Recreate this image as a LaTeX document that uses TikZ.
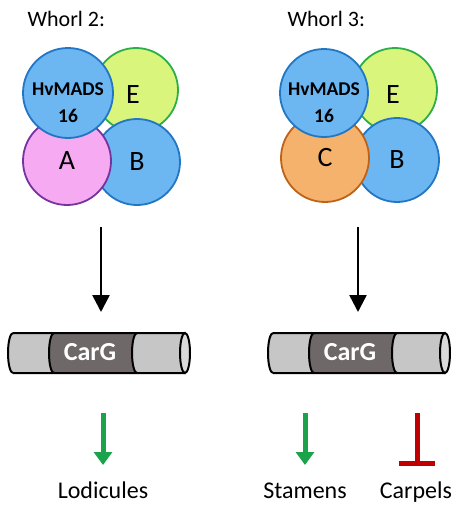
\documentclass[tikz,border=0pt]{standalone}
\usepackage{fontspec}
\setmainfont{Carlito}
\usetikzlibrary{arrows.meta}

\definecolor{mblue}{HTML}{6CB6F2}
\definecolor{mblueline}{HTML}{2277C4}
\definecolor{egreen}{HTML}{D9F57C}
\definecolor{egreenline}{HTML}{2CAF48}
\definecolor{apink}{HTML}{F6AAF2}
\definecolor{apinkline}{HTML}{7533A0}
\definecolor{corange}{HTML}{F5B26C}
\definecolor{corangeline}{HTML}{BE6218}
\definecolor{cyllight}{HTML}{C6C6C6}
\definecolor{cylend}{HTML}{DADADA}
\definecolor{cyldark}{HTML}{6E6868}
\definecolor{upgreen}{HTML}{1BA34B}
\definecolor{downred}{HTML}{C00000}

% CarG cylinder, #1 = node name, #2 = x of the left end
\newcommand{\cargcyl}[2]{%
  \fill[cyllight] (#2,-333) -- (#2+172,-333) arc[start angle=90,end angle=-90,x radius=5,y radius=20]
    -- (#2,-373) arc[start angle=270,end angle=90,x radius=5,y radius=20] -- cycle;
  \fill[cyldark] (#2+41,-333) -- (#2+124,-333) arc[start angle=90,end angle=270,x radius=5,y radius=20]
    -- (#2+41,-373) arc[start angle=270,end angle=90,x radius=5,y radius=20] -- cycle;
  \draw[cylline] (#2+41,-333) arc[start angle=90,end angle=270,x radius=5,y radius=20];
  \draw[cylline] (#2+124,-333) arc[start angle=90,end angle=270,x radius=5,y radius=20];
  \draw[cylline] (#2,-333) -- (#2+172,-333) (#2,-373) -- (#2+172,-373)
    (#2,-333) arc[start angle=90,end angle=270,x radius=5,y radius=20];
  \draw[cylline,fill=cylend] (#2+172,-353) ellipse[x radius=5,y radius=20];
  \node[font=\fontsize{26}{30}\selectfont\bfseries,text=white] (#1) at (#2+77,-352) {CarG};
}

\begin{document}
\begin{tikzpicture}[x=1pt,y=1pt,
  factor/.style={circle,line width=1.8pt,inner sep=0pt,font=\fontsize{28}{32}\selectfont},
  hvmads/.style={factor,fill=mblue,draw=mblueline,minimum size=90pt},
  cylline/.style={line width=2pt,black},
  whorl/.style={font=\fontsize{22}{26}\selectfont,anchor=base west},
  organ/.style={font=\fontsize{24}{28}\selectfont,anchor=base},
  bind/.style={line width=2.5pt,-{Triangle[length=17pt,width=17pt]}},
  promote/.style={upgreen,line width=5pt,-{Triangle[length=13pt,width=18pt]}},
  repress/.style={downred,line width=5pt,-{Bar[width=36pt,line width=5pt]}}]
\useasboundingbox (0,0) rectangle (457,-506);

\node[whorl] (w2) at (24,-26) {Whorl 2:};
\node[whorl] (w3) at (284,-26) {Whorl 3:};

\node[factor,fill=egreen,draw=egreenline,minimum size=84pt] (e2) at (136,-90) {};
\node[factor,fill=mblue,draw=mblueline,minimum size=86pt] (b2) at (137,-162) {B};
\node[factor,fill=apink,draw=apinkline,minimum size=88pt] (a2) at (67,-161) {A};
\node[hvmads,label={[font=\fontsize{19.5}{27}\selectfont\bfseries,align=center,yshift=-10pt]center:HvMADS\\16}] (hv2) at (68,-93) {};
\node[font=\fontsize{28}{32}\selectfont] at (133,-95) {E};

\node[factor,fill=egreen,draw=egreenline,minimum size=84pt] (e3) at (395,-90) {};
\node[factor,fill=mblue,draw=mblueline,minimum size=84pt] (b3) at (397,-160) {B};
\node[factor,fill=corange,draw=corangeline,minimum size=88pt] (c3) at (325,-158) {C};
\node[hvmads,minimum size=88pt,label={[font=\fontsize{19.5}{27}\selectfont\bfseries,align=center,yshift=-10pt]center:HvMADS\\16}] (hv3) at (324,-93) {};
\node[font=\fontsize{28}{32}\selectfont] at (393,-95) {E};

\cargcyl{carg2}{13}
\cargcyl{carg3}{273}

\node[organ] (lod) at (103,-498) {Lodicules};
\node[organ] (sta) at (305,-498) {Stamens};
\node[organ] (car) at (416,-498) {Carpels};

\coordinate (s2) at (101,-227);
\coordinate (t2) at (101,-312);
\coordinate (s3) at (358,-227);
\coordinate (t3) at (358,-312);
\draw[bind] (s2) -- (t2);
\draw[bind] (s3) -- (t3);

\draw[promote] (lod.north |- 0,-413) -- (lod.north |- 0,-465);
\draw[promote] (sta.north |- 0,-413) -- (sta.north |- 0,-465);
\draw[repress] (417,-413) -- (417,-466);
\end{tikzpicture}
\end{document}
